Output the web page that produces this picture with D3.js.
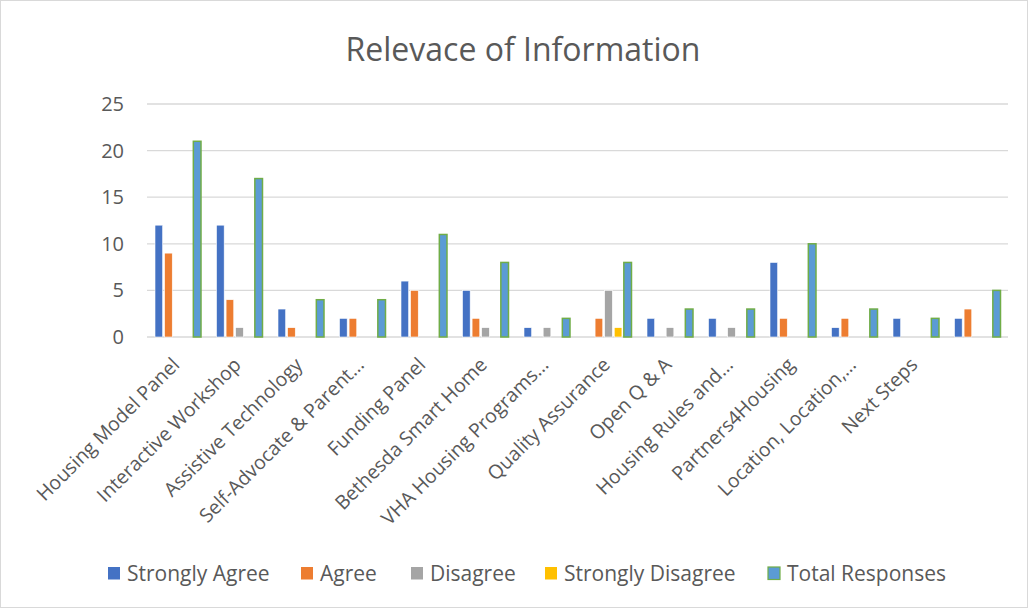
<!DOCTYPE html>
<html><head><meta charset="utf-8">
<script src="https://cdn.jsdelivr.net/npm/d3@7"></script>
<style>body{margin:0;background:#fff}svg{display:block}text{font-family:"Open Sans",sans-serif}</style>
</head><body><svg id="c" width="1029" height="609"></svg>
<script>
const categories = ["Housing Model Panel","Interactive Workshop","Assistive Technology","Self-Advocate & Parent…","Funding Panel","Bethesda Smart Home","VHA Housing Programs…","Quality Assurance","Open Q & A","Housing Rules and…","Partners4Housing","Location, Location,…","Next Steps",""];
const seriesNames = ["Strongly Agree","Agree","Disagree","Strongly Disagree","Total Responses"];
const stronglyAgree    = [12,12,3,2,6,5,1,0,2,2,8,1,2,2];
const agree            = [9,4,1,2,5,2,0,2,0,0,2,2,0,3];
const disagree         = [0,1,0,0,0,1,1,5,1,1,0,0,0,0];
const stronglyDisagree = [0,0,0,0,0,0,0,1,0,0,0,0,0,0];
const totalResponses   = [21,17,4,4,11,8,2,8,3,3,10,3,2,5];
const yTicks = [0,5,10,15,20,25];
const colors = ["#4472c4","#ed7d31","#a5a5a5","#ffc000","#5b9bd5"];
const seriesData = [stronglyAgree,agree,disagree,stronglyDisagree,totalResponses];

const svg = d3.select("#c");
svg.append("rect").attr("x",0.5).attr("y",0.5).attr("width",1027).attr("height",607)
  .attr("fill","#fff").attr("stroke","#d9d9d9");

svg.append("text").attr("x",523).attr("y",61).attr("text-anchor","middle")
  .attr("font-size",32).attr("fill","#595959").text("Relevace of Information");

const x0 = d3.scaleBand().domain(d3.range(categories.length)).range([147,1008]);
const x1 = d3.scaleBand().domain(d3.range(seriesNames.length)).range([8,54]).paddingInner(0.2);
const y = d3.scaleLinear().domain([0,25]).range([337,104]);

const grid = svg.append("g");
grid.selectAll("line").data(yTicks).join("line")
  .attr("x1",147).attr("x2",1008).attr("y1",d=>y(d)).attr("y2",d=>y(d))
  .attr("stroke","#d9d9d9").attr("stroke-width",1.3);

const yAxis = d3.axisLeft(y).tickValues(yTicks).tickSize(0).tickPadding(0);
const ya = svg.append("g").attr("transform","translate(124,0)").call(yAxis);
ya.select(".domain").remove();
ya.selectAll("text").attr("font-size",20).attr("fill","#595959").attr("font-family","Open Sans");

const groups = svg.append("g").selectAll("g").data(categories.map((c,i)=>i)).join("g")
  .attr("transform",i=>`translate(${x0(i)},0)`);
groups.selectAll("rect").data(i=>seriesData.map((s,k)=>({k,v:s[i]})).filter(d=>d.v>0)).join("rect")
  .attr("x",d=>x1(d.k)).attr("width",x1.bandwidth())
  .attr("y",d=>y(d.v)).attr("height",d=>y(0)-y(d.v))
  .attr("fill",d=>colors[d.k])
  .attr("stroke",d=>d.k===4?"#70ad47":"#fff")
  .attr("stroke-width",d=>d.k===4?1.5:0.6);

const xa = svg.append("g");
xa.selectAll("text").data(categories.map((c,i)=>i)).join("text")
  .attr("transform",i=>`translate(${x0(i)+x0.bandwidth()/2+3},${366}) rotate(-45)`)
  .attr("text-anchor","end").attr("font-size",19.5).attr("fill","#595959")
  .text(i=>categories[i]);

const legX = [108,301,411,545,768];
const leg = svg.append("g").selectAll("g").data(seriesNames).join("g")
  .attr("transform",(d,i)=>`translate(${legX[i]},567)`);
leg.append("rect").attr("width",12).attr("height",12.5)
  .attr("fill",(d,i)=>colors[i]).attr("stroke",(d,i)=>i===4?"#70ad47":"none").attr("stroke-width",1.2);
leg.append("text").attr("x",19).attr("y",14).attr("font-size",21).attr("fill","#595959").text(d=>d);
</script></body></html>
